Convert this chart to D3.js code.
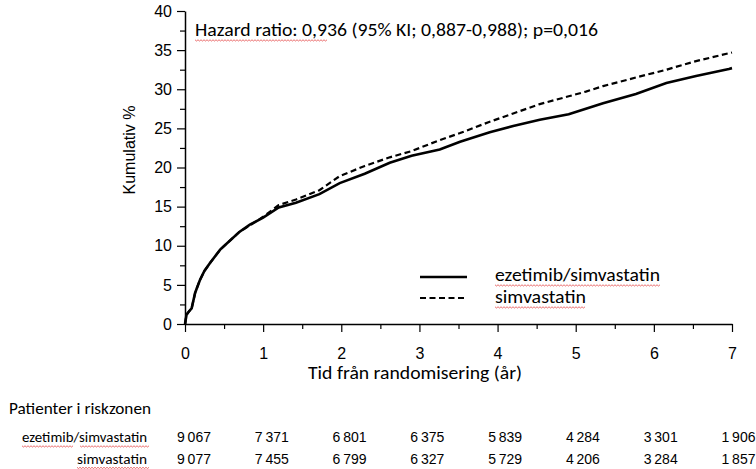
<!DOCTYPE html>
<html>
<head>
<meta charset="utf-8">
<script src="https://cdn.jsdelivr.net/npm/d3@7/dist/d3.min.js"></script>
<style>
    body { margin: 0; background: #fff; }
    .tick text { font-family: 'Liberation Sans', Arial, sans-serif; font-size: 16px; fill: #000; }
    .axis path, .axis line { stroke: #000; }
</style>
</head>
<body>
<svg id="chart" width="756" height="469"></svg>
<script>
// years since randomisation, shared by both curves
var years = [0, 0.02, 0.05, 0.085, 0.13, 0.19, 0.25, 0.32, 0.45, 0.58, 0.70, 0.83, 1.0, 1.2, 1.42, 1.72,
    1.98, 2.3, 2.62, 2.9, 3.26, 3.52, 3.9, 4.2, 4.54, 4.91, 5.13, 5.35, 5.77, 6.16, 6.54, 6.96, 7.0];
var ezeSimva = [0, 1.2, 1.6, 2.0, 4.0, 5.6, 6.8, 7.8, 9.5, 10.7, 11.8, 12.7, 13.6, 14.9, 15.5, 16.6,
    18.0, 19.2, 20.6, 21.5, 22.3, 23.3, 24.5, 25.3, 26.1, 26.8, 27.5, 28.2, 29.4, 30.8, 31.7, 32.6, 32.7];
var simva = [0, 1.2, 1.6, 2.0, 4.0, 5.6, 6.8, 7.8, 9.5, 10.7, 11.8, 12.6, 13.7, 15.2, 15.9, 17.1,
    18.9, 20.2, 21.3, 22.1, 23.5, 24.4, 25.85, 26.9, 28.1, 29.1, 29.7, 30.4, 31.5, 32.5, 33.6, 34.6, 34.7];
var seriesNames = ['ezetimib/simvastatin', 'simvastatin'];

var xTicks = [0, 1, 2, 3, 4, 5, 6, 7];
var yTicks = [0, 5, 10, 15, 20, 25, 30, 35, 40];

var riskYears = [0, 1, 2, 3, 4, 5, 6, 7];
var atRiskEze = [9067, 7371, 6801, 6375, 5839, 4284, 3301, 1906];
var atRiskSimva = [9077, 7455, 6799, 6327, 5729, 4206, 3284, 1857];

var hrText = 'Hazard ratio: 0,936 (95% KI; 0,887-0,988); p=0,016';
var calibri = "Carlito, Lato, 'Open Sans', sans-serif";
var arial = "'Liberation Sans', Arial, sans-serif";

var svg = d3.select('#chart');

var x = d3.scaleLinear().domain([0, 7]).range([185, 732]);
var y = d3.scaleLinear().domain([0, 40]).range([324, 11]);
// the risk table columns sit a little right of the ticks
var xTable = d3.scaleLinear().domain([0, 7]).range([194, 738.5]);

// minor ticks first so the major ones draw on top
svg.append('g')
    .attr('class', 'axis')
    .attr('transform', 'translate(0,324)')
    .call(d3.axisBottom(x).tickValues(d3.range(0.5, 7, 1)).tickSize(5).tickSizeOuter(0).tickFormat(''))
    .select('.domain').remove();
svg.append('g')
    .attr('class', 'axis')
    .attr('transform', 'translate(185,0)')
    .call(d3.axisLeft(y).tickValues(d3.range(2.5, 40, 5)).tickSize(5).tickSizeOuter(0).tickFormat(''))
    .select('.domain').remove();

svg.append('g')
    .attr('class', 'x axis')
    .attr('transform', 'translate(0,324)')
    .call(d3.axisBottom(x).tickValues(xTicks).tickSize(8).tickSizeOuter(0).tickPadding(16).tickFormat(d3.format('d')));
svg.append('g')
    .attr('class', 'y axis')
    .attr('transform', 'translate(185,0)')
    .call(d3.axisLeft(y).tickValues(yTicks).tickSize(8).tickSizeOuter(0).tickPadding(5).tickFormat(d3.format('d')));
svg.selectAll('.axis .domain').attr('stroke-width', 1.5);
svg.selectAll('.axis line').attr('stroke-width', 1.2);

// fixed-width text, to stand in for the Calibri metrics of the source
function label(parent, tx, ty, str, size, width, anchor, family) {
    var t = parent.append('text')
        .attr('x', tx)
        .attr('y', ty)
        .attr('text-anchor', anchor || 'start')
        .style('font-family', family || calibri)
        .style('font-size', size + 'px')
        .text(str);
    if (width) {
        t.attr('textLength', width).attr('lengthAdjust', 'spacingAndGlyphs');
    }
    return t;
}

// spell-check squiggle under a span of text, like the source document
function squiggle(x0, x1, yb) {
    var pts = [];
    for (var px = x0, k = 0; px <= x1; px += 1.5, k++) {
        pts.push([px, yb + (k % 2 ? 1 : -0.2)]);
    }
    svg.append('path')
        .attr('d', d3.line()(pts))
        .attr('fill', 'none')
        .attr('stroke', '#e03030')
        .attr('stroke-width', 0.7);
}

// axis titles
svg.append('text')
    .attr('transform', 'translate(135,150) rotate(-90)')
    .attr('text-anchor', 'middle')
    .style('font-family', arial)
    .style('font-size', '16px')
    .text('Kumulativ  %');

label(svg, 308, 379, 'Tid från randomisering (år)', 17.5, 214);

// curves
var line = d3.line()
    .x(function (d, i) { return x(years[i]); })
    .y(function (d) { return y(d); });

svg.append('path')
    .datum(simva)
    .attr('fill', 'none')
    .attr('stroke', '#000')
    .attr('stroke-width', 2.2)
    .attr('stroke-dasharray', '6,3.5')
    .attr('d', line);

svg.append('path')
    .datum(ezeSimva)
    .attr('fill', 'none')
    .attr('stroke', '#000')
    .attr('stroke-width', 2.6)
    .attr('d', line);

label(svg, 195, 36, hrText, 18, 403);
squiggle(195, 327, 40);

// legend
[0, 1].forEach(function (i) {
    var ly = 277 + i * 21;
    svg.append('line')
        .attr('x1', 420).attr('x2', 467)
        .attr('y1', ly).attr('y2', ly)
        .attr('stroke', '#000')
        .attr('stroke-width', i === 0 ? 2.6 : 2.2)
        .attr('stroke-dasharray', i === 0 ? null : '6,3.5');
    var w = i === 0 ? 165 : 91;
    label(svg, 495, 281 + i * 22, seriesNames[i], 18, w);
    squiggle(495, 495 + w, 285 + i * 22);
});

// risk table
var fmt = d3.formatLocale({ decimal: ',', thousands: '\u2009', grouping: [3], currency: ['', ''] }).format(',d');

label(svg, 9, 414, 'Patienter i riskzonen', 15.5, 142);

[atRiskEze, atRiskSimva].forEach(function (row, r) {
    var ry = 442 + r * 21.5;
    var w = r === 0 ? 125 : 70;
    label(svg, 147, ry, seriesNames[r], 15, w, 'end');
    if (r === 0) {
        squiggle(22, 73, ry + 4);
        squiggle(80, 149, ry + 4);
    } else {
        squiggle(77, 149, ry + 4);
    }
    svg.selectAll(null)
        .data(row)
        .enter()
        .append('text')
        .attr('x', function (d, i) { return xTable(riskYears[i]); })
        .attr('y', ry)
        .attr('text-anchor', 'middle')
        .attr('textLength', 34)
        .attr('lengthAdjust', 'spacingAndGlyphs')
        .style('font-family', arial)
        .style('font-size', '14px')
        .text(function (d) { return fmt(d); });
});
</script>
</body>
</html>
